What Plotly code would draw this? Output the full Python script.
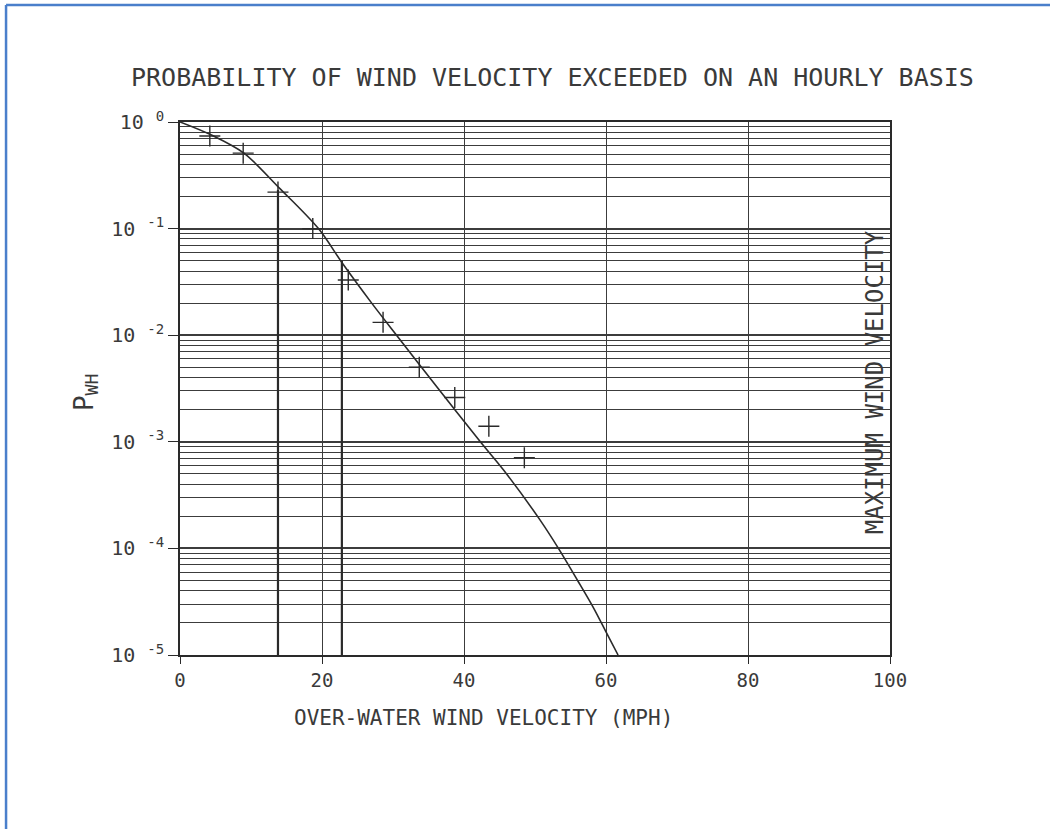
import plotly.graph_objects as go

# ---- data ----
curve_v = [0, 4.5, 9, 14, 19.5, 23, 27, 30.5, 36, 42.3, 46, 50.7, 53.3, 56, 58.2, 60, 61.7]
curve_p = [1.0, 0.75, 0.51, 0.24, 0.1, 0.046, 0.02, 0.01, 0.0034, 0.001,
           5.0e-4, 1.85e-4, 1.0e-4, 5.0e-5, 2.8e-5, 1.65e-5, 1.0e-5]

obs_v = [4.2, 8.9, 13.8, 18.7, 23.7, 28.6, 33.7, 38.7, 43.5, 48.5]
obs_p = [0.74, 0.51, 0.22, 0.10, 0.033, 0.0132, 0.005, 0.0026, 0.0014, 0.00071]

drop_v = [13.8, 22.8]
drop_p = [0.23, 0.05]
p_floor = 1e-5

x_ticks = [0, 20, 40, 60, 80, 100]
y_exps = [0, -1, -2, -3, -4, -5]
y_ticks = [10.0 ** e for e in y_exps]
y_ticktext = ["10 <sup>%d</sup>" % e for e in y_exps]
y_minor = [k * 10.0 ** e for e in range(-5, 0) for k in range(2, 10)]

title_text = "PROBABILITY OF WIND VELOCITY EXCEEDED ON AN HOURLY BASIS"
x_title = "OVER-WATER WIND VELOCITY (MPH)"
y_title = "P<sub>WH</sub>"
side_text = "MAXIMUM WIND VELOCITY"

FONT = "DejaVu Sans Mono"
INK = "#2a2a2a"
GRID = "#3c3c3c"
TXT = "#3a3a3a"

fig = go.Figure()

fig.add_trace(go.Scatter(
    x=curve_v, y=curve_p, mode="lines",
    line=dict(color=INK, width=1.6, shape="spline", smoothing=0.9),
    showlegend=False, hoverinfo="skip"))

for v, p in zip(drop_v, drop_p):
    fig.add_trace(go.Scatter(
        x=[v, v], y=[p, p_floor], mode="lines",
        line=dict(color=INK, width=2.2), showlegend=False, hoverinfo="skip"))

fig.add_trace(go.Scatter(
    x=obs_v, y=obs_p, mode="markers",
    marker=dict(symbol="cross-thin", size=15, line=dict(color=INK, width=1.4)),
    showlegend=False))

fig.update_xaxes(
    range=[0, 100], tickvals=x_ticks, ticktext=[str(t) for t in x_ticks],
    showgrid=True, gridcolor=GRID, gridwidth=1.3,
    showline=True, linecolor=INK, linewidth=1.6, mirror=True,
    ticks="outside", ticklen=7, tickcolor=INK, tickwidth=1.3,
    tickfont=dict(family=FONT, size=19, color=TXT),
    zeroline=False)

fig.update_yaxes(
    type="log", range=[-5, 0], tickvals=y_ticks, ticktext=y_ticktext,
    showgrid=True, gridcolor=GRID, gridwidth=1.6,
    minor=dict(tickvals=y_minor, showgrid=True, gridcolor=GRID, gridwidth=1.2, ticks=""),
    showline=True, linecolor=INK, linewidth=1.6, mirror=True,
    ticks="outside", ticklen=10, tickcolor=INK, tickwidth=1.3,
    tickfont=dict(family=FONT, size=20, color=TXT),
    zeroline=False)

annos = [
    dict(text=title_text, x=0.524, y=1.083, font=dict(family=FONT, size=25, color=TXT)),
    dict(text=x_title, x=0.427, y=-0.118, font=dict(family=FONT, size=21, color=TXT)),
    dict(text=y_title, x=-0.134, y=0.493, textangle=-90, font=dict(family=FONT, size=26, color=TXT)),
    dict(text=side_text, x=0.979, y=0.512, textangle=-90, font=dict(family=FONT, size=24, color=TXT)),
]
for a in annos:
    fig.add_annotation(xref="paper", yref="paper", showarrow=False,
                       xanchor="center", yanchor="middle", **a)

# blue frame of the page
fig.add_shape(type="line", xref="paper", yref="paper", x0=-0.245, x1=-0.245, y0=-0.33, y1=1.2195,
              line=dict(color="#4a7fcb", width=2.5))
fig.add_shape(type="line", xref="paper", yref="paper", x0=-0.245, x1=1.24, y0=1.2195, y1=1.2195,
              line=dict(color="#4a7fcb", width=2.5))

fig.update_layout(
    width=1050, height=829,
    margin=dict(l=180, r=160, t=122, b=174),
    paper_bgcolor="white", plot_bgcolor="white",
    font=dict(family=FONT, color=TXT))

fig.write_html("out.html")
